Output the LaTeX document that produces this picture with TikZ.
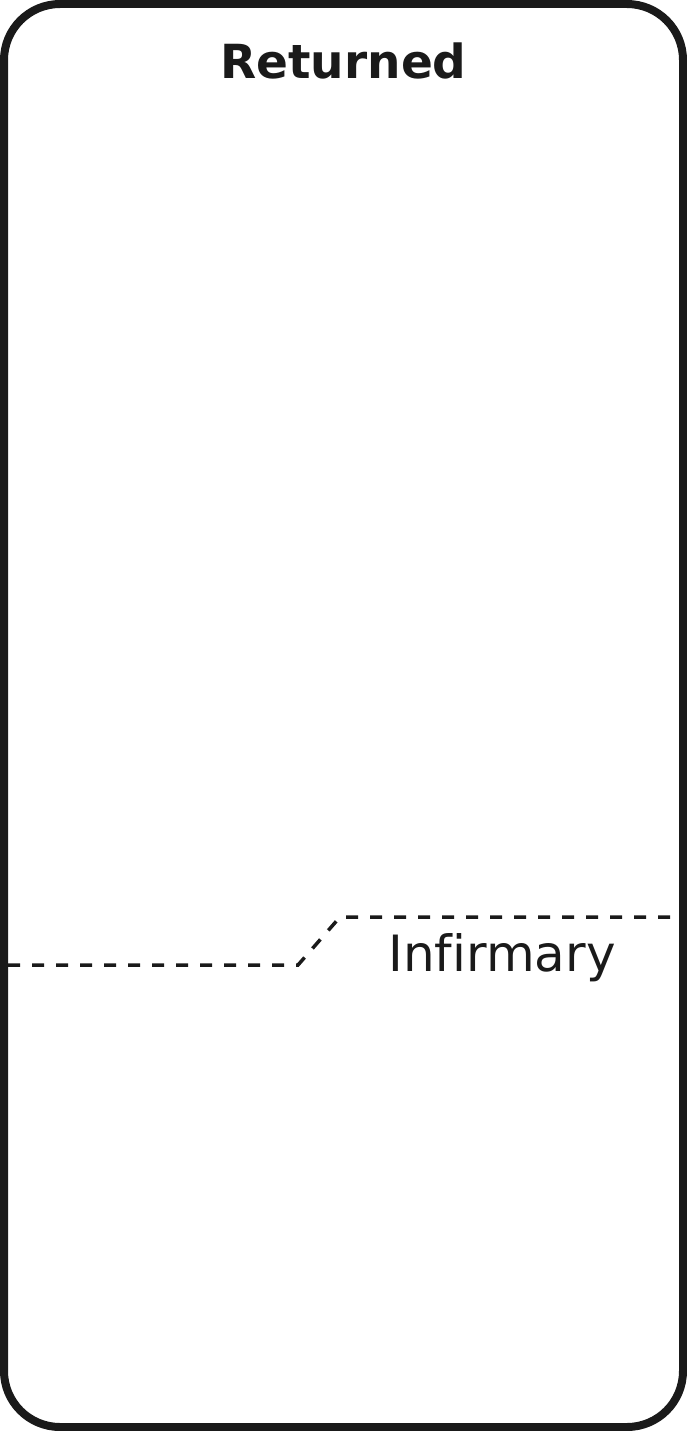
\documentclass[tikz,border=0pt]{standalone}
\usepackage{fontspec}
\setmainfont{DejaVu Sans}[Ligatures=NoCommon]
\usepackage{tikz}
\usetikzlibrary{calc}
\definecolor{ink}{HTML}{1A1A1A}

\begin{document}
\begin{tikzpicture}[x=1pt,y=-1pt,
  frame/.style={draw=ink,line width=8pt,rounded corners=56pt},
  zone/.style={anchor=base,text=ink,inner sep=0pt},
  boundary/.style={draw=ink,line width=3.5pt,dash pattern=on 12pt off 12pt}]
\useasboundingbox (0,0) rectangle (687,1431);
\draw[frame] (4,4) rectangle (683,1427);
\node[zone,font=\fontsize{47}{52}\selectfont\bfseries] (returned) at (343.5,79) {Returned};
\node[zone,font=\fontsize{50}{56}\selectfont] (infirmary) at (502,971) {Infirmary};
\coordinate (wl) at (8,965);
\coordinate (bend1) at (298,965);
\coordinate (bend2) at (340,917);
\coordinate (wr) at (679,917);
\draw[boundary] (wl)--(bend1)--(bend2)--(wr);
\end{tikzpicture}
\end{document}
